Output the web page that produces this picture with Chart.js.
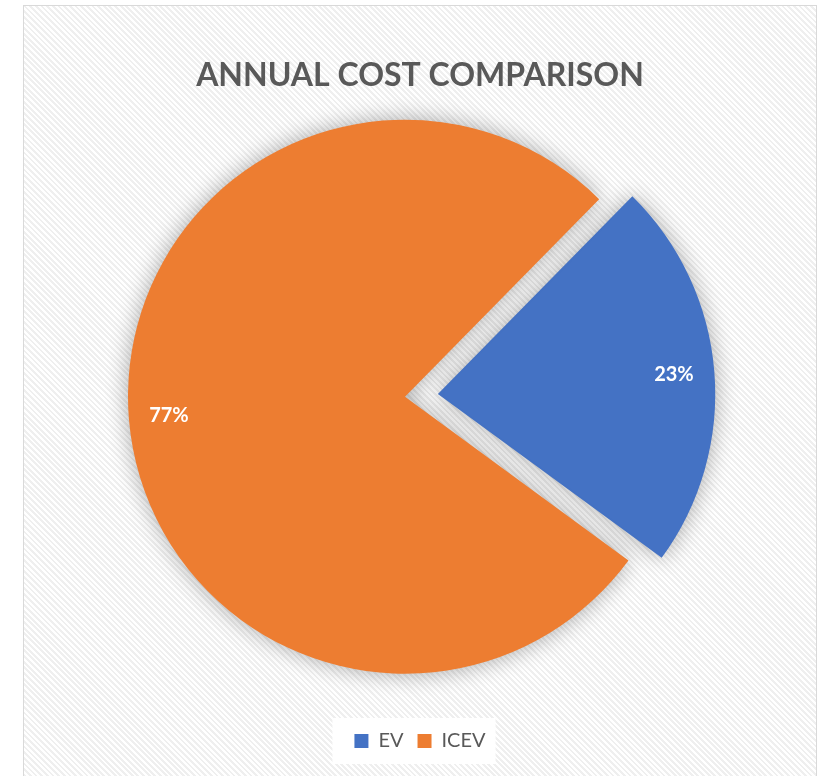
<!DOCTYPE html>
<html><head><meta charset="utf-8">
<script src="https://cdn.jsdelivr.net/npm/chart.js@4.4.0/dist/chart.umd.min.js"></script>
<style>
html,body{margin:0;padding:0;background:#fff;width:828px;height:776px;overflow:hidden}
#frame{position:absolute;left:23px;top:5px;width:792px;height:790px;border:1px solid #d9d9d9;
  background:repeating-linear-gradient(45deg,#ffffff 0px,#ffffff 2px,#efefef 2px,#efefef 4px)}
#wrap{position:absolute;left:24px;top:6px;width:792px;height:770px}
</style></head><body>
<div id="frame"></div>
<div id="wrap"><canvas id="c" width="792" height="770"></canvas></div>
<script>
const titleText = 'ANNUAL COST COMPARISON';
const categories = ['EV', 'ICEV'];
const shares = [22.7, 77.3];
const sliceColors = ['#4472C4', '#ED7D31'];
const explode = [132, 0];

const pieShift = {x: -15, y: -14};
const areaShift = {
  id: 'areaShift',
  afterLayout(chart) {
    const a = chart.chartArea;
    a.left += pieShift.x; a.right += pieShift.x;
    a.top += pieShift.y; a.bottom += pieShift.y;
  }
};
const legendBack = {
  id: 'legendBack',
  beforeDraw(chart) {
    const hb = chart.legend && chart.legend.legendHitBoxes;
    if (!hb || !hb.length) return;
    let l = Infinity, r = -Infinity, t = Infinity, b = -Infinity;
    hb.forEach(h => { l = Math.min(l, h.left); r = Math.max(r, h.left + h.width); t = Math.min(t, h.top); b = Math.max(b, h.top + h.height); });
    const ctx = chart.ctx;
    ctx.save();
    ctx.fillStyle = '#ffffff';
    ctx.fillRect(l - 22, t - 13, (r - l) + 32, (b - t) + 26);
    ctx.restore();
  }
};
const pieShadow = {
  id: 'pieShadow',
  beforeDatasetsDraw(chart) {
    const ctx = chart.ctx;
    ctx.save();
    ctx.shadowColor = 'rgba(0,0,0,0.33)';
    ctx.shadowBlur = 22;
  },
  afterDatasetsDraw(chart) { chart.ctx.restore(); }
};
const sliceLabels = {
  id: 'sliceLabels',
  afterDatasetsDraw(chart) {
    const ctx = chart.ctx;
    const meta = chart.getDatasetMeta(0);
    const total = shares.reduce((a, b) => a + b, 0);
    ctx.save();
    ctx.font = 'bold 20px Lato';
    ctx.fillStyle = '#ffffff';
    ctx.textAlign = 'center';
    ctx.textBaseline = 'middle';
    meta.data.forEach((arc, i) => {
      const p = arc.getProps(['x', 'y', 'startAngle', 'endAngle', 'outerRadius']);
      const mid = (p.startAngle + p.endAngle) / 2;
      const shift = (arc.options.offset || 0) / 4;
      const r = p.outerRadius * 0.855 + shift;
      ctx.fillText(Math.round(shares[i] / total * 100) + '%', p.x + Math.cos(mid) * r, p.y + Math.sin(mid) * r);
    });
    ctx.restore();
  }
};

new Chart(document.getElementById('c'), {
  type: 'pie',
  data: {
    labels: categories,
    datasets: [{
      data: shares,
      backgroundColor: sliceColors,
      borderWidth: 0,
      offset: explode
    }]
  },
  options: {
    responsive: false,
    animation: false,
    rotation: 44.5,
    radius: 277,
    layout: {padding: {top: 0, bottom: 15, left: 0, right: 0}},
    plugins: {
      title: {
        display: true, text: titleText, color: '#595959',
        font: {family: 'Lato', size: 32, weight: 'bold', lineHeight: 1.2},
        padding: {top: 50, bottom: 10}
      },
      legend: {
        position: 'bottom',
        labels: {boxWidth: 14, boxHeight: 14, color: '#595959', padding: 14,
          font: {family: 'Lato', size: 20}}
      },
      tooltip: {enabled: false}
    }
  },
  plugins: [areaShift, legendBack, pieShadow, sliceLabels]
});
</script>
</body></html>
